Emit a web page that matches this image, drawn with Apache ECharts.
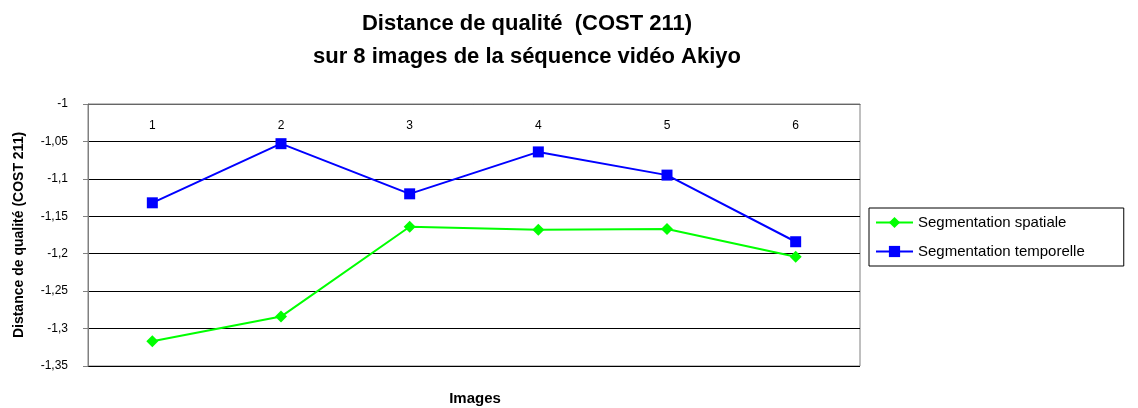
<!DOCTYPE html>
<html lang="fr">
<head>
    <meta charset="UTF-8">
    <title>Distance de qualité (COST 211)</title>
    <script src="https://cdn.jsdelivr.net/npm/echarts@6/dist/echarts.min.js"></script>
    <style>
        html, body { margin: 0; padding: 0; background: #fff; }
    </style>
</head>
<body>
    <div id="main" style="width: 1138px; height: 408px;"></div>
    <script>
        // images de la séquence
        var images = ['1', '2', '3', '4', '5', '6'];
        var spatiale = [-1.317, -1.284, -1.164, -1.168, -1.167, -1.204];
        var temporelle = [-1.132, -1.053, -1.120, -1.064, -1.095, -1.184];

        var fontFam = 'Liberation Sans, Arial, sans-serif';
        var myChart = echarts.init(document.getElementById('main'));

        myChart.setOption({
            animation: false,
            title: [{
                text: 'Distance de qualité  (COST 211)\nsur 8 images de la séquence vidéo Akiyo',
                left: 522,
                top: 2,
                textAlign: 'center',
                textStyle: {
                    fontFamily: fontFam,
                    fontSize: 22,
                    fontWeight: 'bold',
                    color: '#000',
                    lineHeight: 33
                }
            }, {
                text: 'Images',
                left: 470,
                top: 386,
                textAlign: 'center',
                textStyle: { fontFamily: fontFam, fontSize: 15, fontWeight: 'bold', color: '#000' }
            }],
            legend: {
                orient: 'vertical',
                left: 869,
                top: 208,
                padding: [7, 39, 7, 6],
                itemGap: 14,
                itemWidth: 37,
                itemHeight: 14,
                borderColor: '#000',
                borderWidth: 1,
                textStyle: { fontFamily: fontFam, fontSize: 15, color: '#000' },
                data: ['Segmentation spatiale', 'Segmentation temporelle']
            },
            grid: {
                left: 88,
                top: 104,
                right: 278,
                bottom: 42,
                show: true,
                borderColor: '#808080',
                borderWidth: 1
            },
            xAxis: {
                type: 'category',
                position: 'top',
                data: images,
                boundaryGap: true,
                axisLine: { lineStyle: { color: '#666', width: 1 } },
                axisTick: { inside: true, length: 4, lineStyle: { color: '#666' } },
                axisLabel: {
                    inside: true,
                    margin: 16,
                    fontFamily: fontFam,
                    fontSize: 12,
                    color: '#000'
                },
                splitLine: { show: false }
            },
            yAxis: {
                type: 'value',
                min: -1.35,
                max: -1,
                interval: 0.05,
                name: 'Distance de qualité (COST 211)',
                nameLocation: 'middle',
                nameGap: 62,
                nameTextStyle: { fontFamily: fontFam, fontSize: 14, fontWeight: 'bold', color: '#000' },
                axisLine: { show: true, lineStyle: { color: '#808080' } },
                axisTick: { show: true, length: 5, lineStyle: { color: '#808080' } },
                axisLabel: {
                    margin: 20,
                    fontFamily: fontFam,
                    fontSize: 12,
                    color: '#000',
                    formatter: function (v) {
                        return String(Math.round(v * 100) / 100).replace('.', ',');
                    }
                },
                splitLine: { lineStyle: { color: '#000', width: 1 } }
            },
            series: [{
                name: 'Segmentation spatiale',
                type: 'line',
                data: spatiale,
                symbol: 'diamond',
                symbolSize: 12,
                lineStyle: { color: '#00ff00', width: 2 },
                itemStyle: { color: '#00ff00' }
            }, {
                name: 'Segmentation temporelle',
                type: 'line',
                data: temporelle,
                symbol: 'rect',
                symbolSize: 11,
                lineStyle: { color: '#0000ff', width: 2 },
                itemStyle: { color: '#0000ff' }
            }]
        });
    </script>
</body>
</html>
